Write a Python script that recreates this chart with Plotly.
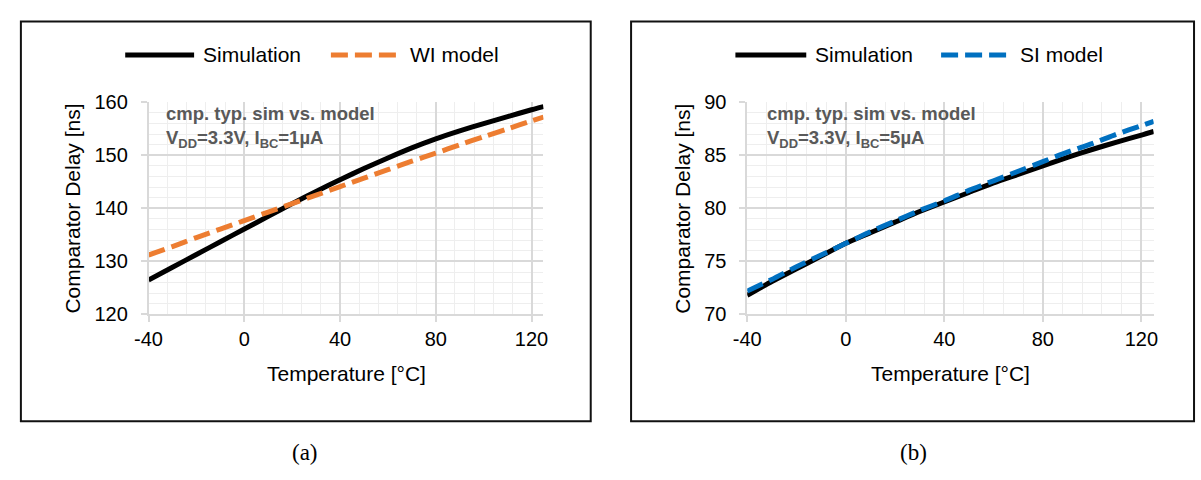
import plotly.graph_objects as go

# ---------------- data ----------------
temps = [-40, -30, -20, -10, 0, 10, 20, 30, 40, 50, 60, 70, 80, 90, 100, 110, 120, 125]

sim_a = [126.5, 128.9, 131.3, 133.7, 136.1, 138.5, 140.9, 143.2, 145.4, 147.5,
         149.5, 151.4, 153.1, 154.6, 156.0, 157.3, 158.6, 159.2]
wi_model_a = [131.2, 132.8, 134.5, 136.1, 137.7, 139.3, 140.9, 142.5, 144.1, 145.7,
              147.3, 148.9, 150.4, 152.0, 153.5, 155.0, 156.5, 157.2]

sim_b = [71.8, 73.1, 74.3, 75.5, 76.7, 77.7, 78.7, 79.7, 80.6, 81.5,
         82.4, 83.2, 84.0, 84.8, 85.55, 86.25, 86.9, 87.25]
si_model_b = [72.2, 73.3, 74.5, 75.6, 76.7, 77.8, 78.8, 79.8, 80.7, 81.7,
              82.6, 83.5, 84.4, 85.3, 86.1, 87.0, 87.8, 88.2]

x_ticks = [-40, 0, 40, 80, 120]
x_tick_labels = ["-40", "0", "40", "80", "120"]
series_names_a = ["Simulation", "WI model"]
series_names_b = ["Simulation", "SI model"]
x_title = "Temperature [°C]"
y_title = "Comparator Delay [ns]"
note_a = "<b>cmp. typ. sim vs. model<br>V<sub>DD</sub>=3.3V, I<sub>BC</sub>=1µA</b>"
note_b = "<b>cmp. typ. sim vs. model<br>V<sub>DD</sub>=3.3V, I<sub>BC</sub>=5µA</b>"
captions = ["(a)", "(b)"]

# ---------------- style ----------------
W, H = 1201, 480
BLACK = "#000000"
ORANGE = "#ED7D31"
BLUE = "#0070C0"
GRID = "#d9d9d9"
MINOR = "#eeeeee"
FONT = "Liberation Sans, Arial, sans-serif"
DASH = "17px,7px"


def px(x):
    return x / W


def py(y):
    return 1 - y / H


fig = go.Figure()

line_kw = dict(mode="lines", line_shape="spline")
fig.add_trace(go.Scatter(x=temps, y=sim_a, name=series_names_a[0],
                         line=dict(color=BLACK, width=5, smoothing=0.6), xaxis="x", yaxis="y", **line_kw))
fig.add_trace(go.Scatter(x=temps, y=wi_model_a, name=series_names_a[1],
                         line=dict(color=ORANGE, width=5, dash=DASH, smoothing=0.6), xaxis="x", yaxis="y", **line_kw))
fig.add_trace(go.Scatter(x=temps, y=sim_b, name=series_names_b[0],
                         line=dict(color=BLACK, width=5, smoothing=0.6), xaxis="x2", yaxis="y2", **line_kw))
fig.add_trace(go.Scatter(x=temps, y=si_model_b, name=series_names_b[1],
                         line=dict(color=BLUE, width=5, dash=DASH, smoothing=0.6), xaxis="x2", yaxis="y2", **line_kw))

plot_top, plot_bot = 95.7, 318.0
xdom_a = [px(136.7), px(538.0)]
xdom_b = [px(745.0), px(1158.0)]
ydom = [py(plot_bot), py(plot_top)]

xaxis_common = dict(
    range=[-40, 125], tickvals=x_ticks, ticktext=x_tick_labels,
    showgrid=True, gridcolor=GRID, gridwidth=1.5,
    showline=True, linecolor=GRID, linewidth=1.5, ticks="outside", ticklen=6,
    tickcolor=GRID, tickwidth=1.5, zeroline=False,
    tickfont=dict(family=FONT, size=20, color="#000"),
    minor=dict(tick0=-40, dtick=8, showgrid=True, gridcolor=MINOR, gridwidth=1, ticks=""),
    fixedrange=True,
)
yaxis_common = dict(
    showgrid=True, gridcolor=GRID, gridwidth=1.5,
    showline=True, linecolor=GRID, linewidth=1.5, ticks="outside", ticklen=6,
    tickcolor=GRID, tickwidth=1.5, zeroline=False, ticklabelstandoff=9,
    tickfont=dict(family=FONT, size=20, color="#000"),
    fixedrange=True,
)

fig.update_layout(
    width=W, height=H,
    margin=dict(l=0, r=0, t=0, b=0),
    paper_bgcolor="white", plot_bgcolor="white",
    showlegend=False,
    xaxis=dict(domain=xdom_a, anchor="y", **xaxis_common),
    yaxis=dict(domain=ydom, anchor="x", range=[120, 160], dtick=10,
               minor=dict(dtick=2, showgrid=True, gridcolor=MINOR, gridwidth=1, ticks=""),
               **yaxis_common),
    xaxis2=dict(domain=xdom_b, anchor="y2", **xaxis_common),
    yaxis2=dict(domain=ydom, anchor="x2", range=[70, 90], dtick=5,
                minor=dict(dtick=1, showgrid=True, gridcolor=MINOR, gridwidth=1, ticks=""),
                **yaxis_common),
)

shapes = []
# outer frames
for x0, x1 in [(7, 586), (627, 1199)]:
    shapes.append(dict(type="rect", xref="paper", yref="paper",
                       x0=px(x0), x1=px(x1), y0=py(430), y1=py(11),
                       line=dict(color="#111", width=2), fillcolor="rgba(0,0,0,0)"))

# manual legends
legend_y = 46
legend_items = [
    (113, 183, BLACK, "solid", 190, series_names_a[0]),
    (322, 392, ORANGE, DASH, 400, series_names_a[1]),
    (733, 805, BLACK, "solid", 812, series_names_b[0]),
    (942, 1012, BLUE, DASH, 1020, series_names_b[1]),
]
annotations = []
for x0, x1, col, dash, tx, label in legend_items:
    shapes.append(dict(type="line", xref="paper", yref="paper",
                       x0=px(x0), x1=px(x1), y0=py(legend_y), y1=py(legend_y),
                       line=dict(color=col, width=5, dash=dash)))
    annotations.append(dict(xref="paper", yref="paper", x=px(tx), y=py(legend_y),
                            xanchor="left", yanchor="middle", showarrow=False,
                            text=label, font=dict(family=FONT, size=21, color="#000")))

# in-plot notes
for nx, txt in [(152, note_a), (763, note_b)]:
    annotations.append(dict(xref="paper", yref="paper", x=px(nx), y=py(122),
                            xanchor="left", yanchor="middle", align="left",
                            showarrow=False, text=txt,
                            font=dict(family=FONT, size=18.5, color="#595959")))

# axis titles
for xd, ycx in [(xdom_a, 59), (xdom_b, 679)]:
    annotations.append(dict(xref="paper", yref="paper", x=(xd[0] + xd[1]) / 2, y=py(380),
                            xanchor="center", yanchor="middle", showarrow=False,
                            text=x_title, font=dict(family=FONT, size=21, color="#000")))
    annotations.append(dict(xref="paper", yref="paper", x=px(ycx), y=py(207),
                            xanchor="center", yanchor="middle", showarrow=False,
                            textangle=-90, text=y_title,
                            font=dict(family=FONT, size=21, color="#000")))

# captions
for cx, cap in [(296, captions[0]), (914, captions[1])]:
    annotations.append(dict(xref="paper", yref="paper", x=px(cx), y=py(463),
                            xanchor="center", yanchor="middle", showarrow=False,
                            text=cap, font=dict(family="Liberation Serif, Times New Roman, serif",
                                                size=23, color="#000")))

fig.update_layout(shapes=shapes, annotations=annotations)

fig.write_html("out.html",
               config={"displayModeBar": False},
               post_script="document.body.style.margin='0';document.body.style.overflow='hidden';")
